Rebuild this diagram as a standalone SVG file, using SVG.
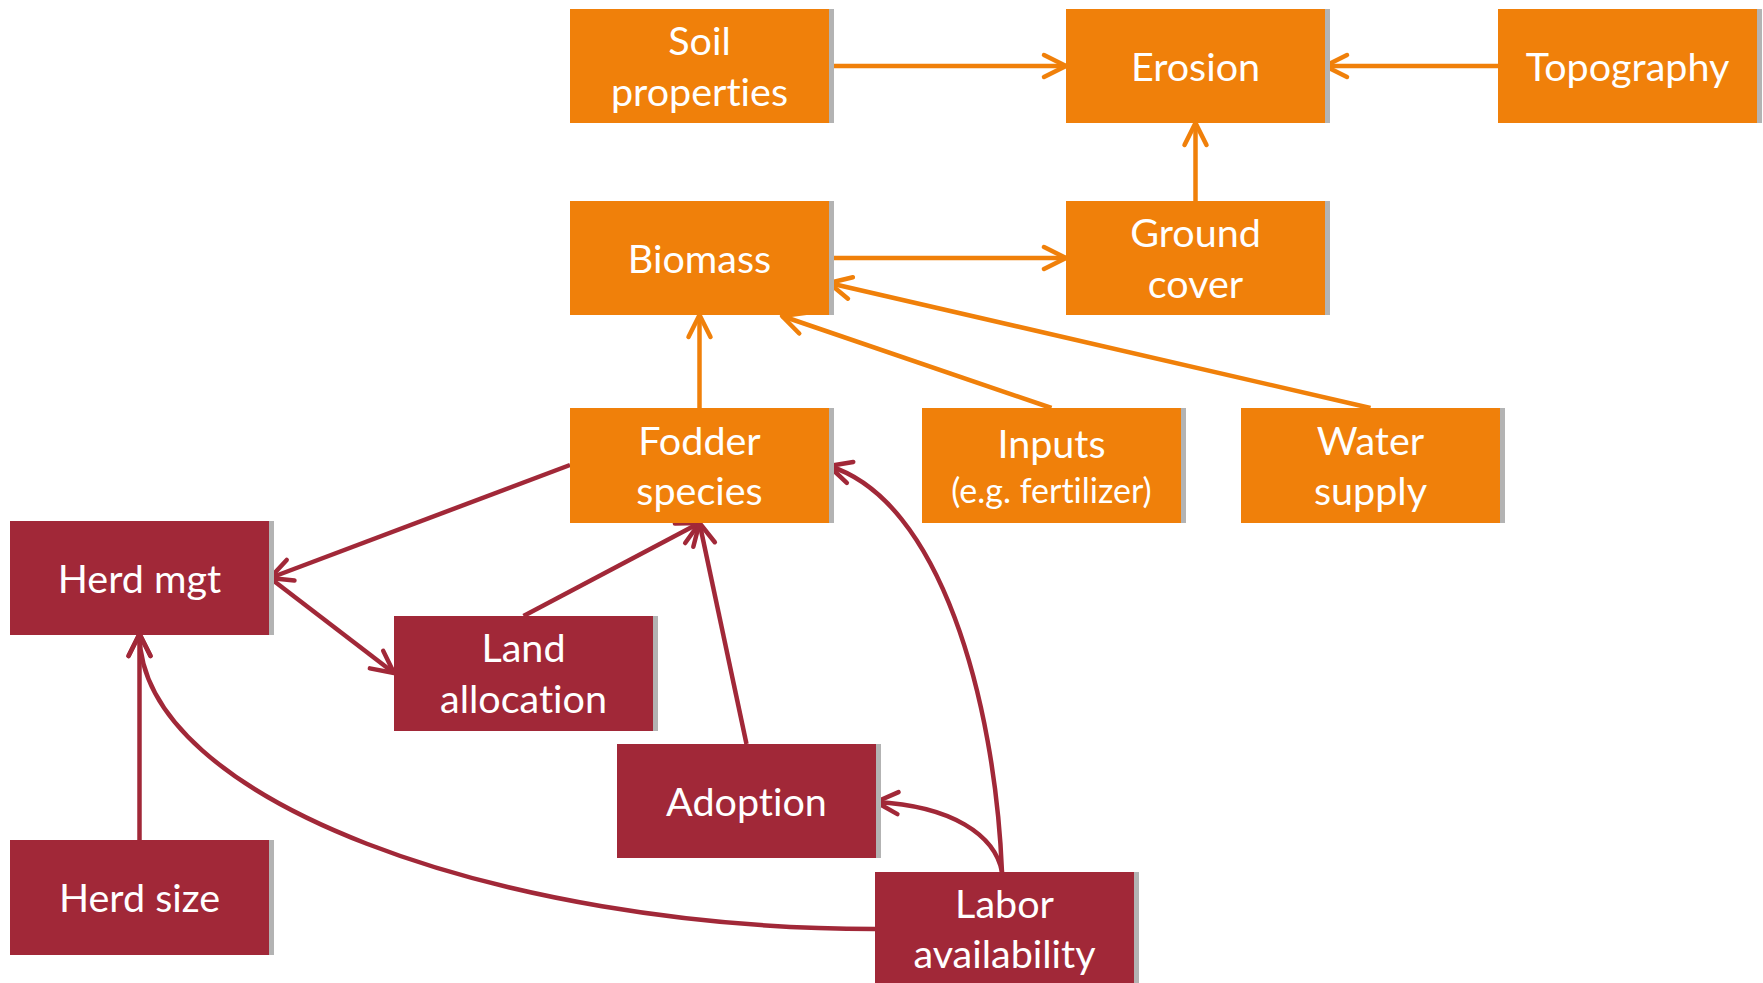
<svg xmlns="http://www.w3.org/2000/svg" width="1763" height="983" viewBox="0 0 1763 983">
  <style>
    .box-o { fill: #F0800A; }
    .box-r { fill: #A12838; }
    .shade { fill: #B3B3B3; }
    .lbl { font-family: Lato, "Open Sans", "Liberation Sans", sans-serif; font-size: 39.5px; fill: #FFFFFF; text-anchor: middle; font-variant-ligatures: none; }
    .small { font-size: 34px; }
    .c-o { fill: none; stroke: #F0800A; stroke-width: 4.5; marker-end: url(#head-o); }
    .c-r { fill: none; stroke: #A12838; stroke-width: 4.5; marker-end: url(#head-r); }
  </style>
  <defs>
    <marker id="head-o" markerUnits="userSpaceOnUse" markerWidth="30" markerHeight="30" refX="0" refY="0" orient="auto" overflow="visible">
      <path d="M-22,-11 L0,0 L-22,11" fill="none" stroke="#F0800A" stroke-width="4.5" stroke-linecap="round" stroke-linejoin="round"/>
    </marker>
    <marker id="head-r" markerUnits="userSpaceOnUse" markerWidth="30" markerHeight="30" refX="0" refY="0" orient="auto" overflow="visible">
      <path d="M-22,-11 L0,0 L-22,11" fill="none" stroke="#A12838" stroke-width="4.5" stroke-linecap="round" stroke-linejoin="round"/>
    </marker>
  </defs>

  <rect width="1763" height="983" fill="#FFFFFF"/>

  <!-- connectors -->
  <g id="connectors">
    <path class="c-o" d="M829,66 L1066,66"/>
    <path class="c-o" d="M1498,66 L1325,66"/>
    <path class="c-o" d="M1195.5,201 L1195.5,123"/>
    <path class="c-o" d="M829,258 L1066,258"/>
    <path class="c-o" d="M699.5,408 L699.5,315"/>
    <path class="c-o" d="M1051.5,408 L782,316"/>
    <path class="c-o" d="M1370.5,408 L829,283"/>

    <path class="c-r" d="M570,465 L270,578"/>
    <path class="c-r" d="M270,578 L394,673"/>
    <path class="c-r" d="M523.5,616 L699.5,523"/>
    <path class="c-r" d="M746.5,744 L699.5,523"/>
    <path class="c-r" d="M139.5,840 L139.5,634"/>
    <path class="c-r" d="M875,929 C500,929 140,800 139.5,634"/>
    <path class="c-r" d="M1002,872 C995,835 952,806 876,802"/>
    <path class="c-r" d="M1002,872 C995,700 940,500 829,466"/>
  </g>

  <!-- nodes -->
  <g id="soil-properties">
    <rect class="shade" x="829" y="9" width="5" height="114"/>
    <rect class="box-o" x="570" y="9" width="259" height="114"/>
    <text class="lbl" x="699.5" y="55">Soil</text>
    <text class="lbl" x="699.5" y="105.5">properties</text>
  </g>
  <g id="erosion">
    <rect class="shade" x="1325" y="9" width="5" height="114"/>
    <rect class="box-o" x="1066" y="9" width="259" height="114"/>
    <text class="lbl" x="1195.5" y="81">Erosion</text>
  </g>
  <g id="topography">
    <rect class="shade" x="1757" y="9" width="5" height="114"/>
    <rect class="box-o" x="1498" y="9" width="259" height="114"/>
    <text class="lbl" x="1627.5" y="81">Topography</text>
  </g>
  <g id="biomass">
    <rect class="shade" x="829" y="201" width="5" height="114"/>
    <rect class="box-o" x="570" y="201" width="259" height="114"/>
    <text class="lbl" x="699.5" y="273">Biomass</text>
  </g>
  <g id="ground-cover">
    <rect class="shade" x="1325" y="201" width="5" height="114"/>
    <rect class="box-o" x="1066" y="201" width="259" height="114"/>
    <text class="lbl" x="1195.5" y="247">Ground</text>
    <text class="lbl" x="1195.5" y="297.5">cover</text>
  </g>
  <g id="fodder-species">
    <rect class="shade" x="829" y="408" width="5" height="115"/>
    <rect class="box-o" x="570" y="408" width="259" height="115"/>
    <text class="lbl" x="699.5" y="454.5">Fodder</text>
    <text class="lbl" x="699.5" y="505">species</text>
  </g>
  <g id="inputs">
    <rect class="shade" x="1181" y="408" width="5" height="115"/>
    <rect class="box-o" x="922" y="408" width="259" height="115"/>
    <text class="lbl" x="1051.5" y="458">Inputs</text>
    <text class="lbl small" x="1051.5" y="503">(e.g. fertilizer)</text>
  </g>
  <g id="water-supply">
    <rect class="shade" x="1500" y="408" width="5" height="115"/>
    <rect class="box-o" x="1241" y="408" width="259" height="115"/>
    <text class="lbl" x="1370.5" y="454.5">Water</text>
    <text class="lbl" x="1370.5" y="505">supply</text>
  </g>
  <g id="herd-mgt">
    <rect class="shade" x="269" y="521" width="5" height="114"/>
    <rect class="box-r" x="10" y="521" width="259" height="114"/>
    <text class="lbl" x="139.5" y="593">Herd mgt</text>
  </g>
  <g id="land-allocation">
    <rect class="shade" x="653" y="616" width="5" height="115"/>
    <rect class="box-r" x="394" y="616" width="259" height="115"/>
    <text class="lbl" x="523.5" y="662">Land</text>
    <text class="lbl" x="523.5" y="713">allocation</text>
  </g>
  <g id="adoption">
    <rect class="shade" x="876" y="744" width="5" height="114"/>
    <rect class="box-r" x="617" y="744" width="259" height="114"/>
    <text class="lbl" x="746.5" y="816">Adoption</text>
  </g>
  <g id="herd-size">
    <rect class="shade" x="269" y="840" width="5" height="115"/>
    <rect class="box-r" x="10" y="840" width="259" height="115"/>
    <text class="lbl" x="139.5" y="912">Herd size</text>
  </g>
  <g id="labor-availability">
    <rect class="shade" x="1134" y="872" width="5" height="114"/>
    <rect class="box-r" x="875" y="872" width="259" height="114"/>
    <text class="lbl" x="1004.5" y="918">Labor</text>
    <text class="lbl" x="1004.5" y="968">availability</text>
  </g>
</svg>
